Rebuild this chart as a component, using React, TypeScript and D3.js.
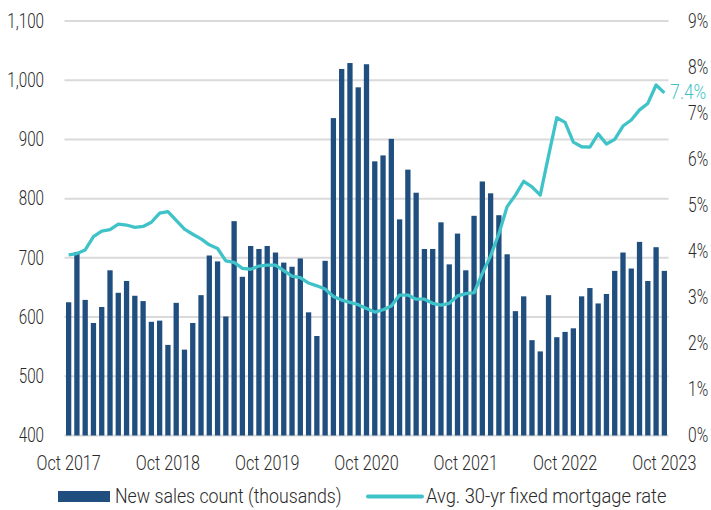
import React from "react";
import * as d3 from "d3";

const months: Date[] = d3.timeMonths(new Date(2017, 9, 1), new Date(2023, 10, 1));

const salesCount: number[] = [
  625, 710, 629, 590, 617, 679, 641, 661, 636, 627,
  592, 594, 553, 624, 545, 590, 637, 704, 694, 601,
  762, 668, 720, 715, 720, 709, 692, 685, 699, 608,
  568, 695, 936, 1019, 1029, 988, 1027, 863, 873, 901,
  765, 849, 810, 715, 715, 760, 689, 741, 679, 771,
  829, 809, 772, 706, 610, 635, 561, 542, 637, 566,
  575, 581, 635, 649, 623, 639, 678, 709, 682, 727,
  661, 718, 678,
];

const mortgageRate: number[] = [
  3.92, 3.95, 4.03, 4.32, 4.44, 4.47, 4.59, 4.57, 4.52, 4.54,
  4.63, 4.83, 4.86, 4.67, 4.48, 4.37, 4.27, 4.14, 4.06, 3.79,
  3.76, 3.63, 3.61, 3.68, 3.70, 3.70, 3.58, 3.46, 3.43, 3.31,
  3.25, 3.18, 3.02, 2.94, 2.89, 2.84, 2.76, 2.68, 2.73, 2.81,
  3.05, 3.05, 2.96, 2.96, 2.87, 2.83, 2.87, 3.03, 3.08, 3.10,
  3.52, 3.90, 4.38, 4.97, 5.22, 5.52, 5.40, 5.22, 6.07, 6.90,
  6.80, 6.37, 6.27, 6.26, 6.55, 6.33, 6.43, 6.72, 6.85, 7.07,
  7.21, 7.61, 7.44,
];

const leftTicks: number[] = [400, 500, 600, 700, 800, 900, 1000, 1100];
const rightTicks: number[] = [0, 1, 2, 3, 4, 5, 6, 7, 8, 9];
const xTickLabels: string[] = ["Oct 2017", "Oct 2018", "Oct 2019", "Oct 2020", "Oct 2021", "Oct 2022", "Oct 2023"];
const seriesNames: string[] = ["New sales count (thousands)", "Avg. 30-yr fixed mortgage rate"];

const W = 711;
const H = 510;
const BAR = "#1f4e7f";
const TEAL = "#3fc3c8";
const TEXT = "#2a2a2a";
const FONT = "Roboto, 'Noto Sans', sans-serif";

type CTProps = {
  x: number;
  y: number;
  sx: number;
  anchor?: "start" | "middle" | "end";
  size?: number;
  fill?: string;
  dy?: string;
  children: React.ReactNode;
};

function CText({ x, y, sx, anchor = "start", size = 19.5, fill = TEXT, dy, children }: CTProps) {
  return (
    <g transform={`translate(${x},${y}) scale(${sx},1)`}>
      <text x={0} y={0} dy={dy} textAnchor={anchor} fontSize={size} fill={fill} fontWeight={300}>
        {children}
      </text>
    </g>
  );
}

export default function App() {
  const x = d3
    .scaleBand<number>()
    .domain(d3.range(months.length))
    .range([64.5, 668.5])
    .paddingInner(0.36)
    .paddingOuter(0.18);
  const yL = d3.scaleLinear().domain([400, 1100]).range([435.5, 21]);
  const yR = d3.scaleLinear().domain([0, 9]).range([435.5, 21]);
  const cx = (i: number) => (x(i) as number) + x.bandwidth() / 2;
  const fmt = d3.format(",");
  const line = d3
    .line<number>()
    .x((_, i) => cx(i))
    .y((d) => yR(d));
  const fmtMonth = d3.timeFormat("%b %Y");
  const last = mortgageRate.length - 1;

  return (
    <svg
      width={W}
      height={H}
      style={{ position: "absolute", left: 0, top: 0, background: "#fff" }}
      fontFamily={FONT}
    >
      {leftTicks.map((t) => (
        <line key={"g" + t} x1={64.5} x2={668.5} y1={yL(t)} y2={yL(t)} stroke="#dadada" strokeWidth={2} />
      ))}
      {salesCount.map((v, i) => (
        <rect key={"b" + i} x={x(i)} y={yL(v)} width={x.bandwidth()} height={yL(400) - yL(v)} fill={BAR} />
      ))}
      <path d={line(mortgageRate) || ""} fill="none" stroke={TEAL} strokeWidth={3.3} strokeLinejoin="round" />
      <CText x={cx(last) + 6} y={yR(mortgageRate[last]) - 1} sx={0.88} size={19.5} fill={TEAL} dy="0.35em">
        {mortgageRate[last].toFixed(1) + "%"}
      </CText>
      {leftTicks.map((t) => (
        <CText key={"l" + t} x={44} y={yL(t)} sx={0.78} anchor="end" dy="0.35em">
          {fmt(t)}
        </CText>
      ))}
      {rightTicks.map((t) => (
        <CText key={"r" + t} x={688} y={yR(t)} sx={0.8} dy="0.35em">
          {t + "%"}
        </CText>
      ))}
      {months.map((m, i) =>
        xTickLabels.includes(fmtMonth(m)) ? (
          <CText key={"x" + i} x={cx(i)} y={470} sx={0.83} anchor="middle">
            {fmtMonth(m)}
          </CText>
        ) : null
      )}
      <rect x={58} y={491} width={52} height={11} fill={BAR} />
      <CText x={115} y={503} sx={0.91}>
        {seriesNames[0]}
      </CText>
      <line x1={368} x2={422} y1={496.5} y2={496.5} stroke={TEAL} strokeWidth={4} strokeLinecap="round" />
      <CText x={426} y={503} sx={0.94}>
        {seriesNames[1]}
      </CText>
    </svg>
  );
}
